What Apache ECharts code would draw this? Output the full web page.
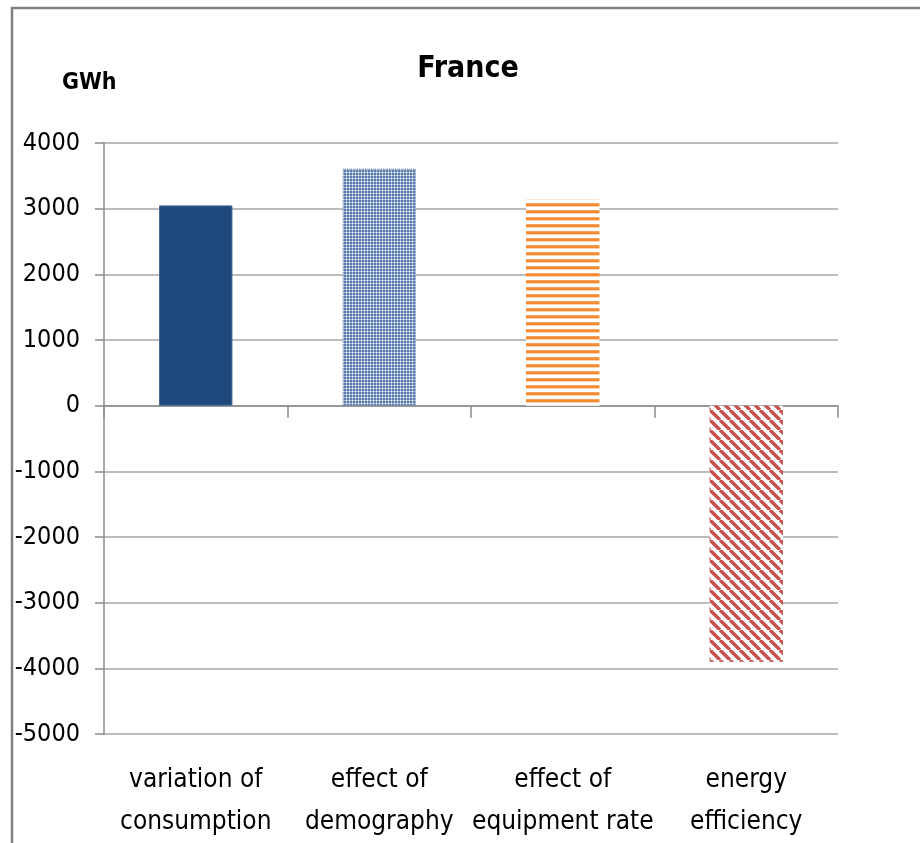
<!DOCTYPE html>
<html>
<head>
<meta charset="utf-8">
<script src="https://cdn.jsdelivr.net/npm/echarts@6/dist/echarts.min.js"></script>
<style>
  html, body { margin: 0; padding: 0; background: #fff; }
  #chart { width: 920px; height: 843px; }
</style>
</head>
<body>
<div id="chart"></div>
<script>
// Decomposition of the change in electricity consumption, France (GWh)
const categories = [
  'variation of\nconsumption',
  'effect of\ndemography',
  'effect of\nequipment rate',
  'energy\nefficiency'
];
const values = [3050, 3610, 3140, -3900];
const yTicks = { min: -5000, max: 4000, step: 1000 };

const FONT = '"Liberation Sans Narrow", "DejaVu Sans Condensed", "Open Sans", sans-serif';

// Fill patterns drawn on small canvases
function makeCanvas(w, h, draw) {
  const c = document.createElement('canvas');
  c.width = w; c.height = h;
  draw(c.getContext('2d'));
  return c;
}

// fine dotted texture in blue
const dottedBlue = makeCanvas(3, 3, ctx => {
  ctx.fillStyle = '#5b7cae';
  ctx.fillRect(0, 0, 3, 3);
  ctx.fillStyle = '#a8bad6';
  ctx.fillRect(1, 0, 1, 1);
  ctx.fillRect(0, 1, 1, 1);
  ctx.fillRect(2, 1, 1, 1);
  ctx.fillRect(1, 2, 1, 1);
  ctx.fillStyle = '#ffffff';
  ctx.fillRect(1, 1, 1, 1);
});

// horizontal orange stripes
const orangeStripes = makeCanvas(8, 7, ctx => {
  ctx.fillStyle = '#ffffff';
  ctx.fillRect(0, 0, 8, 7);
  ctx.fillStyle = '#f4a060';
  ctx.fillRect(0, 0, 8, 1);
  ctx.fillStyle = '#f58a2e';
  ctx.fillRect(0, 1, 8, 2);
  ctx.fillStyle = '#fbd3b0';
  ctx.fillRect(0, 3, 8, 1);
});

// diagonal red stripes (top-left to bottom-right)
const redDiagonal = makeCanvas(10, 10, ctx => {
  ctx.fillStyle = '#ffffff';
  ctx.fillRect(0, 0, 10, 10);
  ctx.strokeStyle = '#c8504d';
  ctx.lineWidth = 3.4;
  ctx.beginPath();
  for (let k = -20; k <= 20; k += 10) {
    ctx.moveTo(k, 0);
    ctx.lineTo(k + 10, 10);
  }
  ctx.stroke();
});

const barStyles = [
  { color: '#1f497d', borderColor: '#4a6a96', borderWidth: 1 },
  { color: { image: dottedBlue, repeat: 'repeat' }, borderColor: '#6d87b0', borderWidth: 1, borderType: 'dotted' },
  { color: { image: orangeStripes, repeat: 'repeat' } },
  { color: { image: redDiagonal, repeat: 'repeat' } }
];

const chart = echarts.init(document.getElementById('chart'), null, { renderer: 'canvas' });

chart.setOption({
  backgroundColor: '#ffffff',
  animation: false,
  title: {
    text: 'France',
    left: 463,
    textAlign: 'center',
    top: 49,
    textStyle: { fontFamily: FONT, fontSize: 30, fontWeight: 'bold', color: '#000' }
  },
  graphic: [
    {
      type: 'polyline',
      shape: { points: [[12, 850], [12, 8], [930, 8]] },
      style: { stroke: '#808080', lineWidth: 2.5, fill: null }
    },
    {
      type: 'text',
      left: 62,
      top: 72,
      style: { text: 'GWh', fontFamily: FONT, fontSize: 23, fontWeight: 'bold', fill: '#000' }
    }
  ],
  grid: { left: 104, right: 82, top: 143, bottom: 109, containLabel: false, outerBoundsMode: 'none' },
  xAxis: [
    {
      type: 'category',
      data: categories,
      axisLine: { onZero: true, lineStyle: { color: '#8c8c8c', width: 1.5 } },
      axisTick: { show: true, length: 12, alignWithLabel: false, lineStyle: { color: '#8c8c8c', width: 1.5 } },
      axisLabel: { show: false },
      splitLine: { show: false }
    },
    {
      type: 'category',
      data: categories,
      position: 'bottom',
      axisLine: { show: false, onZero: false },
      axisTick: { show: false },
      axisLabel: {
        show: true,
        margin: 25,
        interval: 0,
        fontFamily: FONT,
        fontSize: 26,
        lineHeight: 42,
        color: '#000'
      }
    }
  ],
  yAxis: {
    type: 'value',
    min: yTicks.min,
    max: yTicks.max,
    interval: yTicks.step,
    axisLine: { show: true, lineStyle: { color: '#8c8c8c', width: 1.5 } },
    axisTick: { show: true, length: 9, lineStyle: { color: '#8c8c8c', width: 1.5 } },
    axisLabel: {
      fontFamily: FONT,
      fontSize: 25,
      color: '#000',
      margin: 24,
      formatter: v => String(v)
    },
    splitLine: { show: true, lineStyle: { color: '#a6a6a6', width: 1.5 } }
  },
  series: [
    {
      type: 'bar',
      xAxisIndex: 0,
      barWidth: '40%',
      data: values.map((v, i) => ({ value: v, itemStyle: barStyles[i] }))
    }
  ]
});
</script>
</body>
</html>
